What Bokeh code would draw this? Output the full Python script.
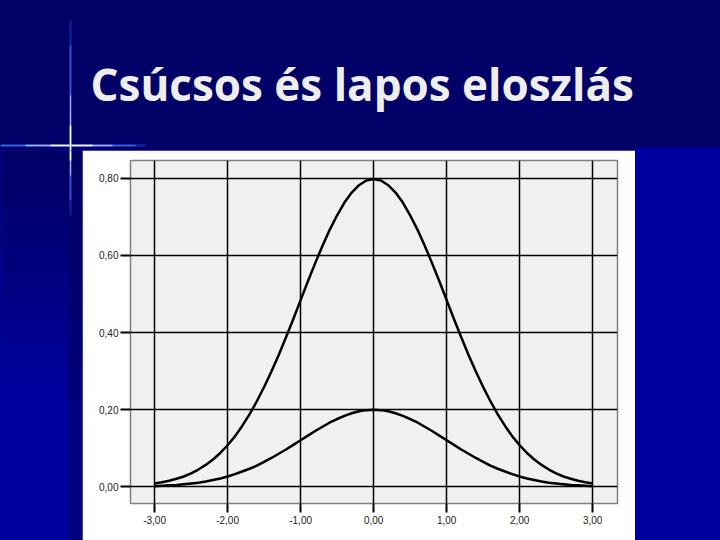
from bokeh.plotting import figure
from bokeh.layouts import column, row
from bokeh.models import Range1d, FixedTicker, CustomJSTickFormatter
from bokeh.core.properties import value
from bokeh.embed import file_html
from bokeh.resources import INLINE

# ---- data ----
x_vals = [-3.0, -2.9, -2.8, -2.7, -2.6, -2.5, -2.4, -2.3, -2.2, -2.1, -2.0,
          -1.9, -1.8, -1.7, -1.6, -1.5, -1.4, -1.3, -1.2, -1.1, -1.0,
          -0.9, -0.8, -0.7, -0.6, -0.5, -0.4, -0.3, -0.2, -0.1, 0.0,
          0.1, 0.2, 0.3, 0.4, 0.5, 0.6, 0.7, 0.8, 0.9, 1.0,
          1.1, 1.2, 1.3, 1.4, 1.5, 1.6, 1.7, 1.8, 1.9, 2.0,
          2.1, 2.2, 2.3, 2.4, 2.5, 2.6, 2.7, 2.8, 2.9, 3.0]
peaked = [0.009, 0.012, 0.016, 0.021, 0.027, 0.035, 0.045, 0.057, 0.071, 0.088, 0.108,
          0.131, 0.158, 0.188, 0.222, 0.259, 0.299, 0.342, 0.388, 0.435, 0.484,
          0.533, 0.580, 0.625, 0.667, 0.704, 0.737, 0.763, 0.782, 0.794, 0.798,
          0.794, 0.782, 0.763, 0.737, 0.704, 0.667, 0.625, 0.580, 0.533, 0.484,
          0.435, 0.388, 0.342, 0.299, 0.259, 0.222, 0.188, 0.158, 0.131, 0.108,
          0.088, 0.071, 0.057, 0.045, 0.035, 0.027, 0.021, 0.016, 0.012, 0.009]
flat = [0.002, 0.003, 0.004, 0.005, 0.007, 0.009, 0.011, 0.014, 0.018, 0.022, 0.027,
        0.033, 0.040, 0.047, 0.055, 0.065, 0.075, 0.086, 0.097, 0.109, 0.121,
        0.133, 0.145, 0.156, 0.167, 0.176, 0.184, 0.191, 0.196, 0.199, 0.200,
        0.199, 0.196, 0.191, 0.184, 0.176, 0.167, 0.156, 0.145, 0.133, 0.121,
        0.109, 0.097, 0.086, 0.075, 0.065, 0.055, 0.047, 0.040, 0.033, 0.027,
        0.022, 0.018, 0.014, 0.011, 0.009, 0.007, 0.005, 0.004, 0.003, 0.002]
x_ticks = [-3, -2, -1, 0, 1, 2, 3]
y_ticks = [0.0, 0.2, 0.4, 0.6, 0.8]
title_text = "Csúcsos és lapos eloszlás"

NAVY = "#000066"
BLUE = "#0000a0"


def bare(w, h, xr, yr, bg):
    f = figure(width=w, height=h, x_range=Range1d(*xr), y_range=Range1d(*yr),
               output_backend="svg", toolbar_location=None,
               x_axis_type=None, y_axis_type=None, min_border=0, frame_align=False)
    f.outline_line_color = None
    f.background_fill_color = bg
    f.border_fill_color = bg
    return f


def glow_vertical(f):
    f.segment(x0=[70], y0=[20], x1=[70], y1=[215], line_color="#3060ff", line_width=3, line_alpha=0.25)
    f.segment(x0=[70], y0=[45], x1=[70], y1=[200], line_color="#5080ff", line_width=1.5, line_alpha=0.6)
    f.segment(x0=[70], y0=[95], x1=[70], y1=[175], line_color="#b0c8ff", line_width=1.2, line_alpha=0.8)
    f.segment(x0=[70], y0=[125], x1=[70], y1=[160], line_color="white", line_width=1.5)


# ---- title area ----
t = bare(720, 150, (0, 720), (150, 0), NAVY)
t.quad(left=[635], right=[720], top=[147], bottom=[151], fill_color=BLUE, line_color=None)
t.segment(x0=[0], y0=[145], x1=[145], y1=[145], line_color="#3060ff", line_width=3, line_alpha=0.3)
t.segment(x0=[0], y0=[145], x1=[135], y1=[145], line_color="#5080ff", line_width=1.6, line_alpha=0.7)
t.segment(x0=[25], y0=[145], x1=[112], y1=[145], line_color="#b0c8ff", line_width=1.3, line_alpha=0.85)
t.segment(x0=[50], y0=[145], x1=[92], y1=[145], line_color="white", line_width=1.5)
glow_vertical(t)
t.text(x=[90], y=[83], text=[title_text], text_font=value("Open Sans"),
       text_font_style="bold", text_font_size="44px", text_color="#eeeeee",
       text_baseline="alphabetic", text_align="left")

# ---- left strip ----
l = bare(82, 390, (0, 82), (540, 150), BLUE)
for i in range(26):
    y0 = 150 + i * 10
    k = min(1.0, i * 10 / 250)
    col = "#%02x%02x%02x" % (0, 0, int(100 + 60 * k))
    l.quad(left=[0], right=[82], top=[y0], bottom=[y0 + 11], fill_color=col, line_color=None)
l.quad(left=[66], right=[71], top=[150], bottom=[540], fill_color="#000060", fill_alpha=0.25, line_color=None)
l.quad(left=[70], right=[82], top=[150], bottom=[540], fill_color="#000060", fill_alpha=0.6, line_color=None)
glow_vertical(l)

# ---- right strip ----
r = bare(85, 390, (635, 720), (540, 150), BLUE)

# ---- chart ----
p = figure(frame_width=487, frame_height=343, frame_align=False,
           x_range=Range1d(-3.33, 3.34), y_range=Range1d(-0.043, 0.846),
           output_backend="svg", toolbar_location=None,
           min_border_left=48, min_border_right=18, min_border_top=10, min_border_bottom=37)
p.background_fill_color = "#f0f0f0"
p.border_fill_color = "white"
p.outline_line_color = "#808080"
p.outline_line_width = 1.5

xt = FixedTicker(ticks=x_ticks)
yt = FixedTicker(ticks=y_ticks)
fmt = "return tick.toFixed(2).replace('.', ',');"
p.xaxis.ticker = xt
p.yaxis.ticker = yt
p.xgrid.ticker = xt
p.ygrid.ticker = yt
p.xaxis.formatter = CustomJSTickFormatter(code=fmt)
p.yaxis.formatter = CustomJSTickFormatter(code=fmt)
for ax in (p.xaxis, p.yaxis):
    ax.axis_line_color = None
    ax.major_tick_line_color = "black"
    ax.major_tick_line_width = 2
    ax.major_tick_in = 0
    ax.minor_tick_line_color = None
    ax.major_label_text_font = "Liberation Sans"
    ax.major_label_text_font_size = "10px"
    ax.major_label_text_color = "#222222"
p.xaxis.major_tick_out = 9
p.xaxis.major_label_standoff = 3
p.yaxis.major_tick_out = 10
p.yaxis.major_label_standoff = 2
for g in (p.xgrid, p.ygrid):
    g.grid_line_color = "black"
    g.grid_line_width = 1.5

p.line(x_vals, peaked, line_color="black", line_width=2.5)
p.line(x_vals, flat, line_color="black", line_width=2.5)

bottom = row(l, p, r, styles={"background-color": BLUE})
layout = column(t, bottom, styles={"background-color": NAVY})
open("out.html", "w").write(file_html(layout, INLINE))
